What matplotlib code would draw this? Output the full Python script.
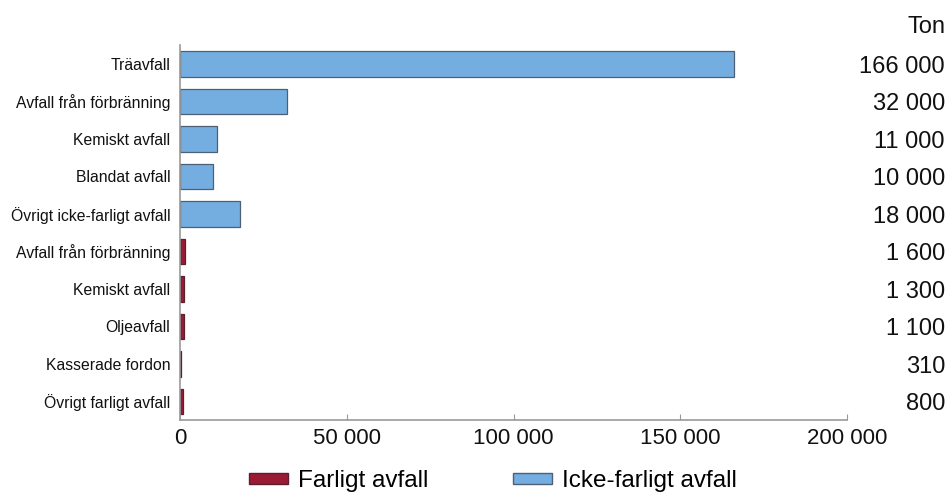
import matplotlib
matplotlib.use("Agg")
import matplotlib.pyplot as plt
from matplotlib.patches import Patch
from matplotlib.transforms import blended_transform_factory

plt.rcParams['font.family'] = ['Liberation Sans', 'DejaVu Sans']

categories = [
    "Träavfall",
    "Avfall från förbränning",
    "Kemiskt avfall",
    "Blandat avfall",
    "Övrigt icke-farligt avfall",
    "Avfall från förbränning",
    "Kemiskt avfall",
    "Oljeavfall",
    "Kasserade fordon",
    "Övrigt farligt avfall",
]
values = [166000, 32000, 11000, 10000, 18000, 1600, 1300, 1100, 310, 800]
hazardous = [False] * 5 + [True] * 5
value_labels = ["166 000", "32 000", "11 000", "10 000", "18 000",
                "1 600", "1 300", "1 100", "310", "800"]
x_ticks = [0, 50000, 100000, 150000, 200000]
x_tick_labels = ["0", "50 000", "100 000", "150 000", "200 000"]
legend_labels = ["Farligt avfall", "Icke-farligt avfall"]

red = "#9b1b34"
blue = "#74ade0"
red_edge = "#5a2030"
blue_edge = "#4f5f75"
text_col = "#111111"

fig = plt.figure(figsize=(9.49, 4.93), dpi=100)
ax = fig.add_axes([180 / 949, 1 - 420 / 493, (847 - 180) / 949, (420 - 45) / 493])

ypos = list(range(len(categories)))
colors = [red if h else blue for h in hazardous]
edges = [red_edge if h else blue_edge for h in hazardous]
ax.barh(ypos, values, height=0.68, color=colors, edgecolor=edges, linewidth=0.9)
ax.set_ylim(len(categories) - 0.5, -0.5)
ax.set_xlim(0, 200000)

ax.set_yticks(ypos)
ax.set_yticklabels(categories, fontsize=11.3, color=text_col)
ax.tick_params(axis="y", length=0, pad=7)
ax.set_xticks(x_ticks)
ax.set_xticklabels(x_tick_labels, fontsize=16, color=text_col)
ax.tick_params(axis="x", direction="in", length=4, color="#999999", pad=6)

for side in ("top", "right"):
    ax.spines[side].set_visible(False)
for side in ("left", "bottom"):
    ax.spines[side].set_color("#999999")
    ax.spines[side].set_linewidth(1.2)

# value column on the right
col_trans = blended_transform_factory(fig.transFigure, ax.transData)
for y, lab in zip(ypos, value_labels):
    ax.text(945 / 949, y + 0.08, lab, transform=col_trans,
            ha="right", va="center", fontsize=17, color=text_col)
fig.text(945 / 949, 1 - 27 / 493, "Ton", ha="right", va="center", fontsize=17, color=text_col)

handles = [Patch(facecolor=red, edgecolor=red_edge), Patch(facecolor=blue, edgecolor=blue_edge)]
fig.legend(handles, legend_labels, loc="center", bbox_to_anchor=(493 / 949, 1 - 481 / 493),
           ncol=2, frameon=False, fontsize=17.5, handlelength=1.6, handleheight=0.35,
           columnspacing=3.5, handletextpad=0.4, borderpad=0, borderaxespad=0)

fig.savefig("out.png", dpi=100)
